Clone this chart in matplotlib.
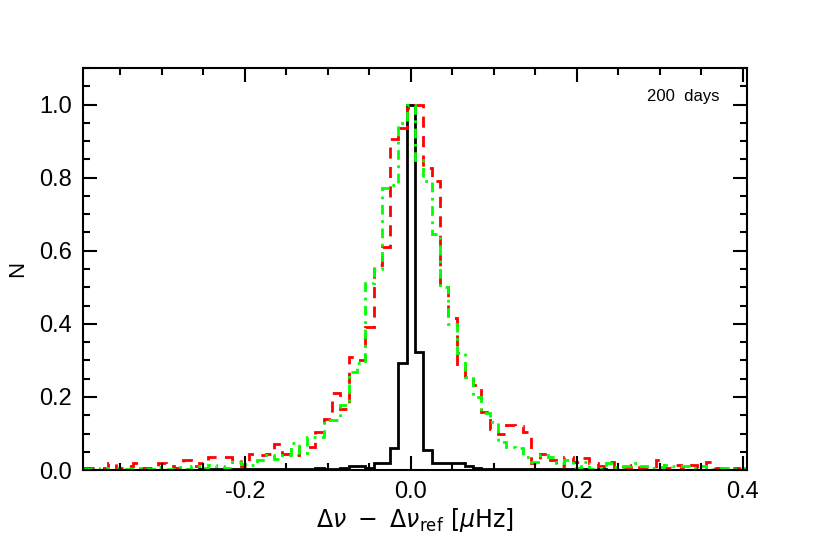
import matplotlib
matplotlib.use("Agg")
import matplotlib.pyplot as plt
import numpy as np

# bin centres (width 0.01 uHz)
centres = np.round(np.arange(-0.39, 0.401, 0.01), 2)

black = [0.0, 0.0, 0.0, 0.0, 0.0, 0.0, 0.0, 0.0, 0.0, 0.0,
         0.001, 0.001, 0.001, 0.001, 0.002, 0.002, 0.002, 0.002, 0.002, 0.002,
         0.003, 0.002, 0.003, 0.004, 0.004, 0.003, 0.004, 0.004, 0.005, 0.004,
         0.004, 0.005, 0.01, 0.011, 0.006, 0.02, 0.02, 0.06, 0.292, 1.0,
         0.323, 0.055, 0.018, 0.018, 0.02, 0.02, 0.01, 0.005, 0.004, 0.004,
         0.004, 0.003, 0.004, 0.003, 0.004, 0.002, 0.002, 0.002, 0.002, 0.002,
         0.002, 0.001, 0.002, 0.001, 0.001, 0.001, 0.001, 0.001, 0.001, 0.001,
         0.0, 0.0, 0.0, 0.0, 0.0, 0.0, 0.0, 0.0, 0.0, 0.0]

red = [0.005, 0.005, 0.005, 0.02, 0.005, 0.01, 0.02, 0.005, 0.005, 0.02,
       0.01, 0.005, 0.027, 0.01, 0.02, 0.036, 0.035, 0.035, 0.03, 0.01,
       0.045, 0.04, 0.045, 0.072, 0.045, 0.04, 0.063, 0.063, 0.105, 0.14,
       0.21, 0.166, 0.308, 0.30, 0.392, 0.56, 0.61, 0.905, 0.935, 0.99,
       1.0, 0.827, 0.79, 0.50, 0.417, 0.285, 0.256, 0.234, 0.16, 0.112,
       0.10, 0.123, 0.12, 0.105, 0.02, 0.045, 0.027, 0.01, 0.035, 0.023,
       0.032, 0.02, 0.01, 0.023, 0.005, 0.008, 0.014, 0.005, 0.005, 0.027,
       0.005, 0.014, 0.005, 0.014, 0.005, 0.023, 0.005, 0.005, 0.005, 0.0]

green = [0.003, 0.002, 0.005, 0.0, 0.005, 0.003, 0.006, 0.002, 0.004, 0.008,
         0.003, 0.007, 0.002, 0.01, 0.005, 0.014, 0.01, 0.005, 0.023, 0.016,
         0.014, 0.027, 0.04, 0.03, 0.04, 0.075, 0.047, 0.09, 0.09, 0.137,
         0.137, 0.178, 0.269, 0.293, 0.513, 0.55, 0.773, 0.78, 0.95, 1.0,
         0.848, 0.79, 0.647, 0.50, 0.40, 0.32, 0.255, 0.20, 0.155, 0.132,
         0.077, 0.062, 0.061, 0.035, 0.023, 0.041, 0.035, 0.018, 0.027, 0.005,
         0.023, 0.002, 0.005, 0.018, 0.007, 0.01, 0.018, 0.01, 0.005, 0.009,
         0.014, 0.01, 0.011, 0.005, 0.01, 0.003, 0.005, 0.005, 0.004, 0.005]

edges = np.append(centres - 0.005, centres[-1] + 0.005)

plt.rcParams['font.family'] = ['Liberation Sans', 'DejaVu Sans']
plt.rcParams['mathtext.fontset'] = 'dejavusans'

fig = plt.figure(figsize=(8.3, 5.53), dpi=100)
ax = fig.add_axes([0.100, 0.150, 0.800, 0.727])

ax.stairs(black, edges, baseline=None, color='black', lw=2.0)
ax.stairs(red, edges, baseline=None, color='#ff0000', lw=2.0, linestyle=(0, (4, 3)))
ax.stairs(green, edges, baseline=None, color='#00ff00', lw=2.0, linestyle=(0, (3.5, 2, 1, 2)))

ax.set_xlim(-0.395, 0.405)
ax.set_ylim(0, 1.1)

ax.set_xticks([-0.2, 0.0, 0.2, 0.4])
ax.set_xticks(np.arange(-0.35, 0.41, 0.05), minor=True)
ax.set_yticks([0.0, 0.2, 0.4, 0.6, 0.8, 1.0])
ax.set_yticks(np.arange(0, 1.11, 0.05), minor=True)
ax.xaxis.set_major_formatter(matplotlib.ticker.FormatStrFormatter('%.1f'))
ax.yaxis.set_major_formatter(matplotlib.ticker.FormatStrFormatter('%.1f'))

ax.tick_params(which='both', direction='in', top=True, right=True, width=1.5)
ax.tick_params(which='major', length=10, labelsize=17)
ax.tick_params(which='minor', length=5)
ax.tick_params(axis='x', which='major', pad=8)
ax.tick_params(axis='y', which='major', pad=8)
for s in ax.spines.values():
    s.set_linewidth(1.5)

ax.set_xlabel(r'$\Delta\nu\ -\ \Delta\nu_{\rm ref}\ [\mu{\rm Hz}]$', fontsize=17, labelpad=2)
ax.set_ylabel('N', fontsize=16, labelpad=8)

ax.text(0.958, 0.928, '200  days', transform=ax.transAxes, ha='right', va='center', fontsize=12)

fig.savefig('out.png', dpi=100)
